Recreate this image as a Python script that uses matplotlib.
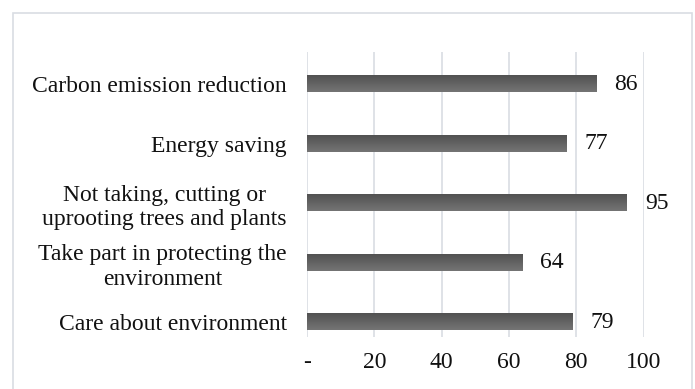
import numpy as np
import matplotlib.pyplot as plt
from matplotlib.colors import LinearSegmentedColormap
from matplotlib.patches import Rectangle

categories = [
    "Care about environment",
    "Take part in protecting the\nenvironment",
    "Not taking, cutting or\nuprooting trees and plants",
    "Energy saving",
    "Carbon emission reduction",
]
values = [79, 64, 95, 77, 86]
xticks = [0, 20, 40, 60, 80, 100]
xtick_labels = ["-", "20", "40", "60", "80", "100"]

plt.rcParams['font.family'] = ['Liberation Serif', 'DejaVu Serif']
fs = 17

fig = plt.figure(figsize=(6.95, 3.89), dpi=100)
ax = fig.add_axes([307 / 695, 1 - 337 / 389, (643.6 - 307) / 695, (337 - 52) / 389])

ypos = np.arange(len(categories))
bar_h = 0.27
bars = ax.barh(ypos, values, height=bar_h, color='#606060', zorder=2)

# vertical gradient on each bar, darker at top
cmap = LinearSegmentedColormap.from_list('g', ['#747474', '#525252'])
grad = np.linspace(0, 1, 64).reshape(-1, 1)
for b in bars:
    x0, y0 = b.get_x(), b.get_y()
    w, h = b.get_width(), b.get_height()
    ax.imshow(grad, cmap=cmap, extent=[x0, x0 + w, y0, y0 + h],
              aspect='auto', origin='lower', zorder=3)

for y, v in zip(ypos, values):
    ax.annotate(str(v), (v, y), xytext=(13, 0), textcoords='offset points',
                va='center', ha='left', fontsize=fs, color='#111111')

ax.set_xlim(0, 100)
ax.set_ylim(-0.25, 4.54)
ax.set_xticks(xticks)
ax.set_xticklabels(xtick_labels, fontsize=fs)
ax.set_yticks(ypos)
ax.set_yticklabels(categories, fontsize=fs)
for lbl in ax.get_yticklabels():
    lbl.set_multialignment('center')
    lbl.set_linespacing(1.22)

ax.tick_params(axis='both', length=0, colors='#111111')
ax.tick_params(axis='y', pad=14.4)
ax.tick_params(axis='x', pad=11)
ax.grid(axis='x', color='#d9dde3', linewidth=1.2, zorder=0)
for spine in ax.spines.values():
    spine.set_visible(False)

# outer chart border
fig.patches.append(Rectangle((13.5 / 695, -0.05), (692 - 13.5) / 695, 1.05 - 13.5 / 389,
                             transform=fig.transFigure, fill=False,
                             edgecolor='#d9dde3', linewidth=1.2))

fig.savefig('out.png', dpi=100)
